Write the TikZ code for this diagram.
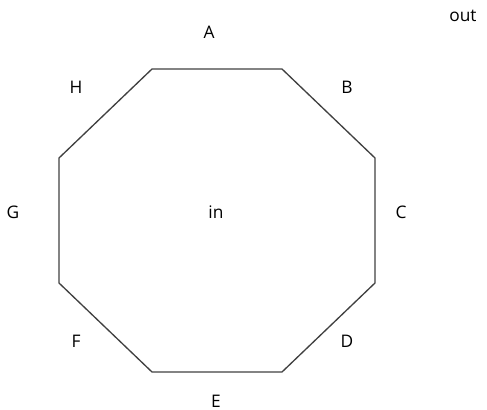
\documentclass[tikz,border=0pt]{standalone}
\usepackage{fontspec}
\setmainfont{Open Sans}
\usetikzlibrary{calc}

\begin{document}
\begin{tikzpicture}[x=0.75pt, y=-0.75pt, font=\fontsize{13}{15}\selectfont]
			\useasboundingbox (0,0) rectangle (487,410);
			\coordinate (P1) at (152,69);
			\coordinate (P2) at (282,69);
			\coordinate (P3) at (375,158);
			\coordinate (P4) at (375,283);
			\coordinate (P5) at (282,372);
			\coordinate (P6) at (152,372);
			\coordinate (P7) at (59,283);
			\coordinate (P8) at (59,158);
			
			\draw[line width=1pt, black!75] (P1)--(P2)--(P3)--(P4)--(P5)--(P6)--(P7)--(P8)--cycle;
			
			\foreach \n/\l/\x/\y in {A/A/209/32, B/B/347/87, C/C/401/212, D/D/347/341, E/E/216/401, F/F/76/341, G/G/13/212, H/H/76/87, in/in/216/212, out/out/463/16} {
				\node (\n) at (\x,\y) {\l};
			}
		\end{tikzpicture}
\end{document}
